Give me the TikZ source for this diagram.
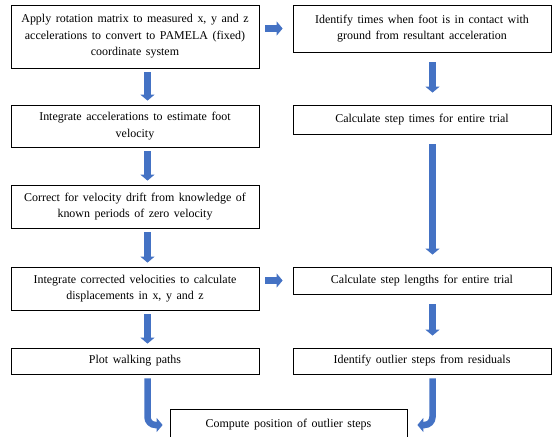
\documentclass[tikz,border=0pt]{standalone}
\usepackage{fontspec}
\setmainfont{Liberation Serif}
\usepackage{xcolor}
\usetikzlibrary{arrows.meta}
\definecolor{arrowblue}{RGB}{68,114,196}
\newcommand{\boxfont}{\fontsize{12}{16.5}\selectfont\spaceskip=0.38em plus 0.1em\relax}

\begin{document}
\begin{tikzpicture}[x=1bp,y=-1bp]
\tikzset{stepbox/.style={rectangle, draw=black, thick, align=center, inner sep=2pt, font=\boxfont},
  blockarrow/.style={draw=arrowblue, line width=6.5bp, -{Triangle[width=14bp,length=6bp]}}}
\useasboundingbox (0,0) rectangle (552,437);
\clip (0,0) rectangle (552,437);

% left column
\node[stepbox, minimum width=248bp, minimum height=63bp] (rotate) at (135,36.5) {Apply rotation matrix to measured x, y and z\\accelerations to convert to PAMELA (fixed)\\coordinate system};
\node[stepbox, minimum width=248bp, minimum height=42bp] (integacc) at (135,126) {Integrate accelerations to estimate foot\\velocity};
\node[stepbox, minimum width=248bp, minimum height=43bp] (drift) at (135,206.5) {Correct for velocity drift from knowledge of\\known periods of zero velocity};
\node[stepbox, minimum width=248bp, minimum height=43bp] (integvel) at (135,288.5) {Integrate corrected velocities to calculate\\displacements in x, y and z};
\node[stepbox, minimum width=248bp, minimum height=26bp] (plotpath) at (135,361) {Plot walking paths};

% right column
\node[stepbox, minimum width=258bp, minimum height=47bp] (contact) at (422,28.5) {Identify times when foot is in contact with\\ground from resultant acceleration};
\node[stepbox, minimum width=258bp, minimum height=29bp] (steptime) at (422,119.5) {Calculate step times for entire trial};
\node[stepbox, minimum width=258bp, minimum height=27bp] (steplen) at (422,280.5) {Calculate step lengths for entire trial};
\node[stepbox, minimum width=258bp, minimum height=26bp] (outlier) at (422,361) {Identify outlier steps from residuals};

\node[stepbox, minimum width=237bp, minimum height=32bp] (compute) at (288.5,425) {Compute position of outlier steps};

% arrows
\foreach \a/\b in {rotate/integacc, integacc/drift, drift/integvel, integvel/plotpath}
  \draw[blockarrow, shorten <=4bp, shorten >=4bp] ([xshift=12.5bp]\a.south) -- ([xshift=12.5bp]\b.north);
\foreach \a/\b in {contact/steptime, steptime/steplen, steplen/outlier}
  \draw[blockarrow, shorten <=10bp, shorten >=12bp] ([xshift=10.5bp]\a.south) -- ([xshift=10.5bp]\b.north);

\draw[blockarrow, shorten <=6bp, shorten >=10bp] (rotate.east |- contact.west) -- (contact.west);
\draw[blockarrow, shorten <=6bp, shorten >=10bp] (integvel.east |- steplen.west) -- (steplen.west);

\draw[blockarrow, rounded corners=8bp, shorten <=4bp, shorten >=7bp] ([xshift=12.5bp]plotpath.south) |- (compute.west);
\draw[blockarrow, rounded corners=8bp, shorten <=4bp, shorten >=10bp] ([xshift=10.5bp]outlier.south) |- (compute.east);
\end{tikzpicture}
\end{document}
